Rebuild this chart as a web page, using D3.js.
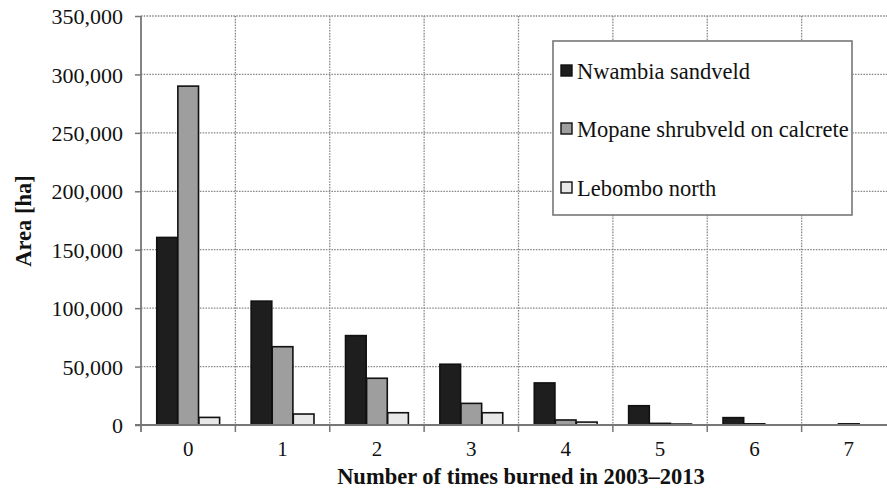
<!DOCTYPE html>
<html><head><meta charset="utf-8">
<script src="https://cdn.jsdelivr.net/npm/d3@7"></script>
<style>body{margin:0;background:#fff}svg{display:block} svg text{font-family:"Liberation Serif","Times New Roman",serif;fill:#111}</style>
</head><body><svg id="c" width="887" height="492"></svg>
<script>
const categories = ["0","1","2","3","4","5","6","7"];
const seriesNames = ["Nwambia sandveld","Mopane shrubveld on calcrete","Lebombo north"];
const nwambia = [160500,106000,76500,52000,36000,16500,6300,0];
const mopane  = [290000,67000,40000,18500,4300,1400,1000,1000];
const lebombo = [6500,9400,10500,10500,2500,800,0,0];
const yTicks = [0,50000,100000,150000,200000,250000,300000,350000];
const colors = ["#1e1e1e","#9e9e9e","#e8e8e8"];

const series = [nwambia, mopane, lebombo];
const svg = d3.select("#c");
const m = {left:141, top:16, bottom:425, right:896};
const x = d3.scaleBand().domain(categories).range([m.left, m.right]).paddingInner(0).paddingOuter(0);
const xi = d3.scaleBand().domain(d3.range(3)).range([0, x.bandwidth()]).paddingOuter(0.747).paddingInner(0.02);
const y = d3.scaleLinear().domain([0,350000]).range([m.bottom, m.top]);
const fmt = d3.format(",");

// grid
const g = svg.append("g");
g.selectAll("line.h").data(yTicks.slice(1)).join("line")
  .attr("x1", m.left).attr("x2", m.right).attr("y1", d=>y(d)).attr("y2", d=>y(d))
  .attr("stroke","#8a8a8a").attr("stroke-width",1.3).attr("stroke-dasharray","1.6,1.2");
g.selectAll("line.v").data(categories.slice(1)).join("line")
  .attr("x1", d=>x(d)).attr("x2", d=>x(d)).attr("y1", m.top).attr("y2", m.bottom)
  .attr("stroke","#8a8a8a").attr("stroke-width",1.3).attr("stroke-dasharray","1.6,1.2");

// bars
series.forEach((s,si)=>{
  svg.append("g").selectAll("rect").data(s).join("rect")
    .attr("x",(d,i)=>x(categories[i])+xi(si))
    .attr("width", xi.bandwidth())
    .attr("y", d=>y(d))
    .attr("height", d=>Math.max(0, y(0)-y(d)))
    .attr("fill", colors[si])
    .attr("stroke", d=> d>0 ? "#111" : "none")
    .attr("stroke-width", 1.6);
});

// axes
const yAxis = d3.axisLeft(y).tickValues(yTicks).tickFormat(fmt).tickSize(6).tickPadding(12);
const ya = svg.append("g").attr("transform",`translate(${m.left},0)`).call(yAxis);
ya.attr("font-family",null).attr("font-size",null);
ya.select(".domain").remove();
ya.selectAll(".tick line").attr("stroke","#777").attr("stroke-width",1.5);
ya.selectAll("text").style("font-size","22px").attr("dy","0.35em");
svg.append("line").attr("x1",m.left).attr("x2",m.left).attr("y1",m.top).attr("y2",m.bottom+7)
  .attr("stroke","#777").attr("stroke-width",1.8);

svg.append("line").attr("x1",m.left-6).attr("x2",m.right).attr("y1",y(0)).attr("y2",y(0))
  .attr("stroke","#777").attr("stroke-width",1.8);
svg.append("g").selectAll("line").data(categories.slice(1)).join("line")
  .attr("x1",d=>x(d)).attr("x2",d=>x(d)).attr("y1",y(0)).attr("y2",y(0)+7)
  .attr("stroke","#777").attr("stroke-width",1.5);
svg.append("g").selectAll("text").data(categories).join("text")
  .attr("x",d=>x(d)+x.bandwidth()/2).attr("y",456)
  .attr("text-anchor","middle").style("font-size","21px")
  .text(d=>d);

// titles
svg.append("text").attr("x",521).attr("y",484).attr("text-anchor","middle")
  .style("font-weight","bold").style("font-size","22.5px")
  .text("Number of times burned in 2003–2013");
svg.append("text").attr("transform","translate(31,221) rotate(-90)").attr("text-anchor","middle")
  .style("font-weight","bold").style("font-size","22.5px")
  .text("Area [ha]");

// legend
const lg = svg.append("g");
lg.append("rect").attr("x",553).attr("y",41).attr("width",299).attr("height",174)
  .attr("fill","#fff").attr("stroke","#777").attr("stroke-width",1.6);
const ly = [71,129,188];
seriesNames.forEach((n,i)=>{
  lg.append("rect").attr("x",561).attr("y",ly[i]-6).attr("width",11).attr("height",11)
    .attr("fill",colors[i]).attr("stroke","#111").attr("stroke-width",1.4);
  lg.append("text").attr("x",577).attr("y",ly[i]+8)
    .style("font-size","22.5px").text(n);
});
</script></body></html>
